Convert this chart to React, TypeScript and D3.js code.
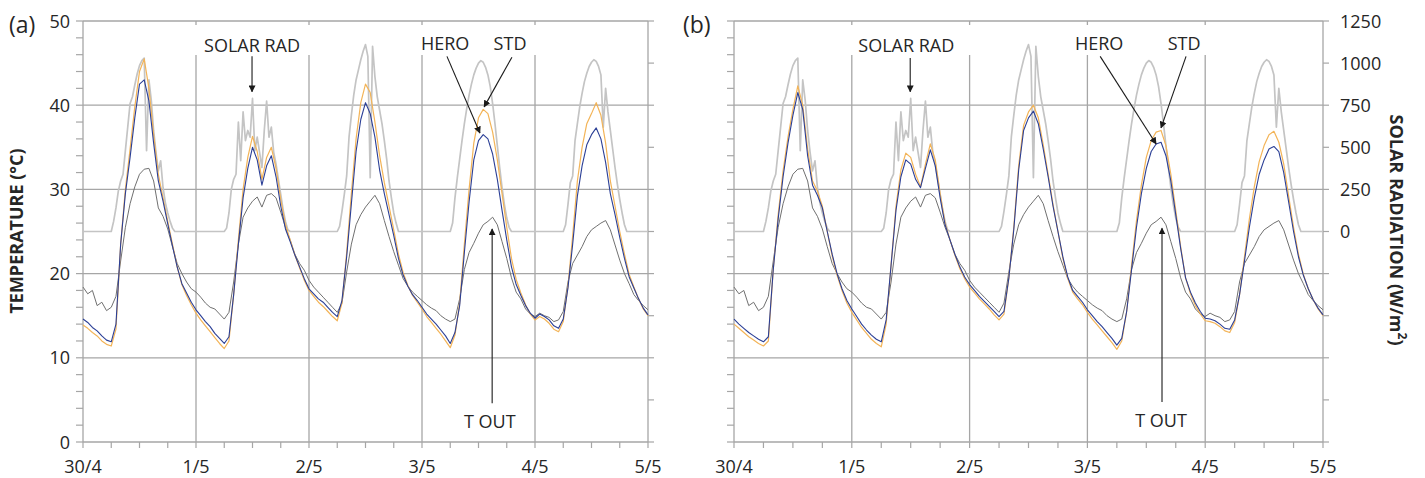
import React from 'react';
import * as d3 from 'd3';

const W = 1425;
const H = 478;

const DAY_LABELS = ['30/4', '1/5', '2/5', '3/5', '4/5', '5/5'];
const TEMP_TICKS = [0, 10, 20, 30, 40, 50];
const SOLAR_LABEL_TICKS = [0, 250, 500, 750, 1000, 1250];

// Hourly outdoor temperature (°C), 30/4 00:00 -> 5/5 00:00
const tOut = [
  18.4, 17.6, 18.0, 16.2, 16.6, 15.6, 16.0, 17.3, 21.5, 25.5, 28.3, 30.3,
  31.8, 32.4, 32.5, 31.0, 27.8, 26.8, 25.3, 23.2, 21.2, 20.0, 19.0, 18.2,
  17.8, 17.2, 16.5, 16.0, 15.8, 15.2, 14.6, 15.4, 19.0, 23.5, 26.7, 27.8,
  28.6, 29.1, 27.9, 29.3, 29.5, 29.0, 27.3, 25.5, 24.0, 22.3, 21.2, 20.4,
  19.2, 18.4, 17.8, 17.2, 16.6, 16.0, 15.4, 16.5, 20.2, 23.5, 25.8, 27.0,
  27.9, 28.6, 29.3, 28.3, 26.3, 24.4, 22.6, 21.0, 19.4, 18.5, 17.8, 17.3,
  16.8, 16.3, 15.9, 15.6, 15.0, 14.6, 14.3, 14.6, 17.0, 20.5, 22.5, 23.6,
  24.8, 25.8, 26.2, 26.7, 25.8, 23.8, 21.8, 19.5, 17.8, 17.0, 15.8, 15.2,
  14.9, 15.3, 15.0, 14.8, 14.3, 14.5, 15.5, 19.0, 21.2, 22.2, 23.2, 24.4,
  25.2, 25.6, 26.0, 26.3, 25.2, 23.4, 21.6, 20.0, 18.8, 17.5, 16.8, 16.2,
  15.7,
];

// Panel (a)
const heroA = [
  14.6, 14.2, 13.6, 13.2, 12.6, 12.1, 11.9, 14.0, 23.5, 29.5, 33.8, 38.5,
  42.5, 43.0, 40.5, 35.5, 31.0, 28.6, 25.9, 23.3, 20.8, 18.8, 17.7, 16.6,
  15.7, 15.0, 14.3, 13.7, 12.9, 12.3, 11.7, 12.5, 17.5, 23.5, 29.0, 32.5,
  35.0, 33.5, 30.5, 32.8, 34.0, 31.5, 28.0, 25.3, 23.8, 22.2, 20.8, 19.4,
  18.2, 17.6, 17.0, 16.6, 16.0, 15.4, 14.9, 16.8, 22.0, 28.3, 34.5, 38.3,
  40.3, 39.0, 36.2, 32.3, 29.5, 27.0, 24.5, 21.8, 19.8, 18.5, 17.5, 16.8,
  16.0, 15.2, 14.6, 14.0, 13.3, 12.6, 11.7, 13.0, 16.2, 22.5, 28.5, 33.5,
  35.8, 36.5, 36.0, 34.2, 31.2, 27.5, 24.0, 20.8, 18.7, 17.4, 16.2, 15.3,
  14.7, 15.2, 14.9, 14.5, 13.8, 13.5, 14.6, 18.3, 23.5, 29.2, 32.8, 35.3,
  36.5, 37.3, 36.0, 33.2, 29.5, 27.0, 24.3, 21.8, 19.6, 18.3, 17.0, 15.9,
  15.1,
];
const stdA = [
  13.9, 13.5, 13.0, 12.6, 12.0, 11.6, 11.4, 13.4, 23.5, 30.0, 34.8, 39.8,
  44.0, 45.5, 42.0, 36.5, 31.8, 29.0, 26.2, 23.5, 20.8, 18.7, 17.4, 16.3,
  15.3, 14.5, 13.8, 13.1, 12.4, 11.7, 11.1, 12.0, 17.5, 24.0, 30.0, 33.8,
  36.3, 34.5, 31.2, 33.8, 35.0, 32.5, 28.8, 25.8, 24.0, 22.2, 20.7, 19.2,
  18.0, 17.3, 16.6, 16.1, 15.5, 14.9, 14.4, 16.5, 22.5, 29.5, 36.0, 40.3,
  42.5, 41.5, 38.0, 34.0, 30.8, 28.0, 25.2, 22.3, 20.1, 18.6, 17.4, 16.6,
  15.8, 14.9, 14.2, 13.5, 12.8, 12.0, 11.2, 12.7, 16.5, 23.5, 30.0, 35.5,
  38.5, 39.5, 39.0, 36.8, 33.5, 29.5, 25.5, 21.8, 19.3, 17.7, 16.3, 15.2,
  14.5, 14.9, 14.6, 14.1, 13.4, 13.1, 14.3, 18.5, 24.5, 31.0, 35.0, 37.8,
  39.0, 40.3, 38.8, 35.5, 31.0, 28.0, 25.0, 22.3, 19.9, 18.4, 17.0, 15.8,
  15.0,
];

// Panel (b)
const heroB = [
  14.6, 14.0, 13.5, 13.0, 12.6, 12.2, 11.9, 12.5, 20.5, 26.5, 31.5, 35.5,
  38.8, 41.5, 39.5, 34.0, 30.5, 29.3, 27.8, 25.0, 22.3, 20.0, 18.2, 16.8,
  15.8, 14.9, 14.0, 13.3, 12.7, 12.2, 11.9, 14.5, 21.0, 27.5, 31.5, 33.5,
  33.0, 31.2, 30.2, 32.5, 34.7, 32.8, 29.0, 25.8, 24.0, 22.3, 20.8, 19.6,
  18.7, 18.0, 17.3, 16.7, 16.1, 15.5, 14.9, 15.5, 19.5, 25.2, 32.3, 37.0,
  38.5, 39.3, 37.8, 34.8, 31.5, 28.0, 25.0, 22.0, 19.6, 18.0, 17.3, 16.6,
  15.7, 15.0, 14.3, 13.7, 13.0, 12.3, 11.5, 12.3, 15.5, 20.5, 25.5, 29.5,
  32.5, 34.5, 35.4, 35.6, 34.0, 31.0, 27.0, 23.0, 19.5, 17.8, 16.5, 15.5,
  14.7, 14.6, 14.4, 14.0, 13.5, 13.4, 14.5, 17.5, 21.5, 25.5, 29.0, 31.8,
  33.5, 34.8, 35.1, 34.5, 32.0, 28.5, 25.0, 22.0, 19.8, 18.2, 16.9, 15.9,
  15.1,
];
const stdB = [
  14.0, 13.5, 13.0, 12.5, 12.1, 11.7, 11.4, 12.0, 20.5, 27.0, 32.2, 36.2,
  39.5, 42.3, 40.0, 34.8, 31.0, 29.8, 28.0, 25.0, 22.1, 19.8, 18.0, 16.5,
  15.4, 14.5, 13.6, 12.9, 12.2, 11.7, 11.3, 14.0, 21.0, 28.0, 32.3, 34.3,
  33.8, 31.8, 30.3, 33.0, 35.4, 33.5, 29.5, 26.0, 24.0, 22.2, 20.6, 19.4,
  18.4, 17.7, 17.0, 16.4, 15.8, 15.1, 14.5, 15.2, 19.5, 25.5, 32.8, 37.6,
  39.2, 40.0, 38.5, 35.3, 31.8, 28.2, 25.0, 21.8, 19.4, 17.8, 17.0, 16.3,
  15.4, 14.6, 13.9, 13.2, 12.5, 11.8, 11.0, 12.0, 15.5, 21.0, 26.3, 30.5,
  33.8, 35.8, 36.8, 37.0, 35.2, 31.8, 27.5, 23.2, 19.5, 17.6, 16.2, 15.2,
  14.4, 14.3, 14.1, 13.7, 13.2, 13.0, 14.2, 17.5, 22.0, 26.5, 30.3, 33.3,
  35.2, 36.5, 36.9, 35.6, 33.0, 29.2, 25.5, 22.3, 19.9, 18.2, 16.9, 15.8,
  15.0,
];

// Solar radiation (W/m2), half-hourly, one array per day
const solarD0 = [
  0, 0, 0, 0, 0, 0, 0, 0, 0, 0, 0, 0,
  0, 60, 140, 240, 300, 340, 480, 620, 760, 800, 870, 935,
  985, 1015, 1030, 480, 900, 780, 600, 470, 360, 420, 260, 170,
  110, 60, 20, 0, 0, 0, 0, 0, 0, 0, 0, 0,
];
const solarD1 = [
  0, 0, 0, 0, 0, 0, 0, 0, 0, 0, 0, 0,
  0, 20, 110, 250, 310, 340, 650, 420, 710, 540, 600, 560,
  790, 480, 560, 470, 380, 600, 775, 560, 620, 470, 400, 310,
  220, 130, 60, 10, 0, 0, 0, 0, 0, 0, 0, 0,
];
const solarD2 = [
  0, 0, 0, 0, 0, 0, 0, 0, 0, 0, 0, 0,
  0, 30, 120, 220, 330, 560, 690, 810, 900, 960, 1020, 1070,
  1110, 1040, 320, 1100, 920, 800, 720, 640, 540, 430, 300, 200,
  110, 50, 0, 0, 0, 0, 0, 0, 0, 0, 0, 0,
];
const solarD3 = [
  0, 0, 0, 0, 0, 0, 0, 0, 0, 0, 0, 0,
  0, 50, 200, 320, 430, 540, 640, 730, 810, 875, 930, 970,
  1000, 1015, 1005, 975, 930, 860, 760, 640, 510, 380, 260, 160,
  80, 25, 0, 0, 0, 0, 0, 0, 0, 0, 0, 0,
];
const solarD4 = [
  0, 0, 0, 0, 0, 0, 0, 0, 0, 0, 0, 0,
  0, 40, 160, 290, 330, 540, 640, 740, 820, 890, 940, 980,
  1005, 1020, 1010, 980, 930, 620, 850, 710, 600, 490, 380, 280,
  190, 110, 40, 0, 0, 0, 0, 0, 0, 0, 0, 0,
];
const solarEnd = [0];
const solar = [...solarD0, ...solarD1, ...solarD2, ...solarD3, ...solarD4, ...solarEnd];

// Annotations in data units (hour, °C)
const notesA = [
  { text: 'SOLAR RAD', lx: 35.9, ly: 47.1, x1: 35.9, y1: 45.8, x2: 35.9, y2: 41.6 },
  { text: 'HERO', lx: 76.9, ly: 47.3, x1: 77.3, y1: 45.8, x2: 84.3, y2: 36.7 },
  { text: 'STD', lx: 90.7, ly: 47.3, x1: 91.1, y1: 45.7, x2: 85.2, y2: 39.8 },
  { text: 'T OUT', lx: 86.4, ly: 2.4, x1: 86.9, y1: 4.6, x2: 86.9, y2: 25.3 },
];
const notesB = [
  { text: 'SOLAR RAD', lx: 35.1, ly: 47.1, x1: 35.9, y1: 45.6, x2: 35.9, y2: 41.6 },
  { text: 'HERO', lx: 74.4, ly: 47.3, x1: 74.6, y1: 45.8, x2: 86.0, y2: 35.4 },
  { text: 'STD', lx: 91.7, ly: 47.3, x1: 92.1, y1: 45.8, x2: 87.0, y2: 37.3 },
  { text: 'T OUT', lx: 87.0, ly: 2.6, x1: 87.2, y1: 4.75, x2: 87.2, y2: 25.4 },
];

const FONT = "'Open Sans', 'DejaVu Sans', sans-serif";
const GRID = '#a6a6a6';
const TEXT = '#262626';
const C_SOLAR = '#c4c4c4';
const C_TOUT = '#707070';
const C_HERO = '#2b3f96';
const C_STD = '#f3b458';

const TOP = 21;
const BOTTOM = 442;

type PanelProps = {
  id: string;
  letter: string;
  letterX: number;
  left: number;
  right: number;
  hero: number[];
  std: number[];
  notes: typeof notesA;
  leftLabels: boolean;
  rightLabels: boolean;
};

function Panel({ id, letter, letterX, left, right, hero, std, notes, leftLabels, rightLabels }: PanelProps) {
  const x = d3.scaleLinear().domain([0, 120]).range([left, right]);
  const yT = d3.scaleLinear().domain([0, 50]).range([BOTTOM, TOP]);
  const yS = d3.scaleLinear().domain([-1250, 1250]).range([BOTTOM, TOP]);

  const lineT = d3.line<number>().x((_, i) => x(i)).y((d) => yT(d));
  const lineS = d3.line<number>().x((_, i) => x(i / 2)).y((d) => yS(d));

  const minorT = d3.range(0, 51, 2);
  const hourTicks = d3.range(0, 121, 6);
  const rightTicks = d3.range(-1250, 1251, 250);
  const dayTicks = d3.range(0, 121, 24);

  return (
    <g>
      {TEMP_TICKS.map((t) => (
        <line key={'hg' + t} x1={left} x2={right} y1={yT(t)} y2={yT(t)} stroke={GRID} strokeWidth={1.3} />
      ))}
      {dayTicks.slice(1, -1).map((h) => (
        <g key={'vg' + h}>
          <line x1={x(h)} x2={x(h)} y1={TOP + 34} y2={BOTTOM} stroke={GRID} strokeWidth={1.3} />
          <line x1={x(h)} x2={x(h)} y1={TOP} y2={TOP + 4} stroke={GRID} strokeWidth={1.3} />
        </g>
      ))}
      <line x1={left} x2={left} y1={TOP} y2={BOTTOM} stroke={GRID} strokeWidth={1.3} />
      <line x1={right} x2={right} y1={TOP} y2={BOTTOM} stroke={GRID} strokeWidth={1.3} />
      {minorT.map((t) => (
        <line key={'lt' + t} x1={left - 7} x2={left} y1={yT(t)} y2={yT(t)} stroke={GRID} strokeWidth={1.2} />
      ))}
      {rightTicks.map((s) => (
        <line key={'rt' + s} x1={right} x2={right + 6} y1={yS(s)} y2={yS(s)} stroke={GRID} strokeWidth={1.2} />
      ))}
      {hourTicks.map((h) => (
        <line key={'bt' + h} x1={x(h)} x2={x(h)} y1={BOTTOM} y2={BOTTOM + 6} stroke={GRID} strokeWidth={1.2} />
      ))}

      <path d={lineS(solar) || ''} fill="none" stroke={C_SOLAR} strokeWidth={1.7} strokeLinejoin="round" />
      <path d={lineT(tOut) || ''} fill="none" stroke={C_TOUT} strokeWidth={1} strokeLinejoin="round" />
      <path d={lineT(std) || ''} fill="none" stroke={C_STD} strokeWidth={1.2} strokeLinejoin="round" />
      <path d={lineT(hero) || ''} fill="none" stroke={C_HERO} strokeWidth={1.1} strokeLinejoin="round" />

      {DAY_LABELS.map((lab, i) => (
        <text key={'dl' + i} x={x(dayTicks[i])} y={BOTTOM + 31} textAnchor="middle" fontSize={18} fill={TEXT} fontFamily={FONT}>
          {lab}
        </text>
      ))}
      {leftLabels &&
        TEMP_TICKS.map((t) => (
          <text key={'yl' + t} x={left - 13} y={yT(t) + 6.5} textAnchor="end" fontSize={18} fill={TEXT} fontFamily={FONT}>
            {t}
          </text>
        ))}
      {rightLabels &&
        SOLAR_LABEL_TICKS.map((s) => (
          <text key={'sl' + s} x={right + 17} y={yS(s) + 6.5} textAnchor="start" fontSize={18} fill={TEXT} fontFamily={FONT}>
            {s}
          </text>
        ))}

      {notes.map((n) => (
        <g key={n.text}>
          <text x={x(n.lx)} y={yT(n.ly)} dy="0.36em" textAnchor="middle" fontSize={18} fill={TEXT} fontFamily={FONT}>
            {n.text}
          </text>
          <line
            x1={x(n.x1)}
            y1={yT(n.y1)}
            x2={x(n.x2)}
            y2={yT(n.y2)}
            stroke="#1a1a1a"
            strokeWidth={1.1}
            markerEnd={`url(#arrow-${id})`}
          />
        </g>
      ))}

      <text x={letterX} y={TOP + 12} fontSize={23} fill={TEXT} fontFamily={FONT}>
        {letter}
      </text>
    </g>
  );
}

export default function App() {
  return (
    <svg
      width={W}
      height={H}
      viewBox={`0 0 ${W} ${H}`}
      style={{ position: 'absolute', left: 0, top: 0, background: '#fff', display: 'block' }}
    >
      <defs>
        {['a', 'b'].map((id) => (
          <marker
            key={id}
            id={`arrow-${id}`}
            viewBox="0 0 10 10"
            refX={9}
            refY={5}
            markerWidth={7}
            markerHeight={7}
            markerUnits="userSpaceOnUse"
            orient="auto"
          >
            <path d="M0,0 L10,5 L0,10 z" fill="#1a1a1a" />
          </marker>
        ))}
      </defs>
      <rect x={0} y={0} width={W} height={H} fill="#fff" />
      <Panel id="a" letter="(a)" letterX={9} left={83} right={648} hero={heroA} std={stdA} notes={notesA} leftLabels rightLabels={false} />
      <Panel id="b" letter="(b)" letterX={683} left={734} right={1323} hero={heroB} std={stdB} notes={notesB} leftLabels={false} rightLabels />
      <text
        transform={`translate(23, 231) rotate(-90)`}
        textAnchor="middle"
        fontSize={18}
        fontWeight="bold"
        fill={TEXT}
        fontFamily={FONT}
      >
        TEMPERATURE (°C)
      </text>
      <text
        transform={`translate(1390, 230) rotate(90)`}
        textAnchor="middle"
        fontSize={18}
        fontWeight="bold"
        fill={TEXT}
        fontFamily={FONT}
      >
        SOLAR RADIATION (W/m
        <tspan baselineShift="super" fontSize={12}>2</tspan>
        <tspan>)</tspan>
      </text>
    </svg>
  );
}
